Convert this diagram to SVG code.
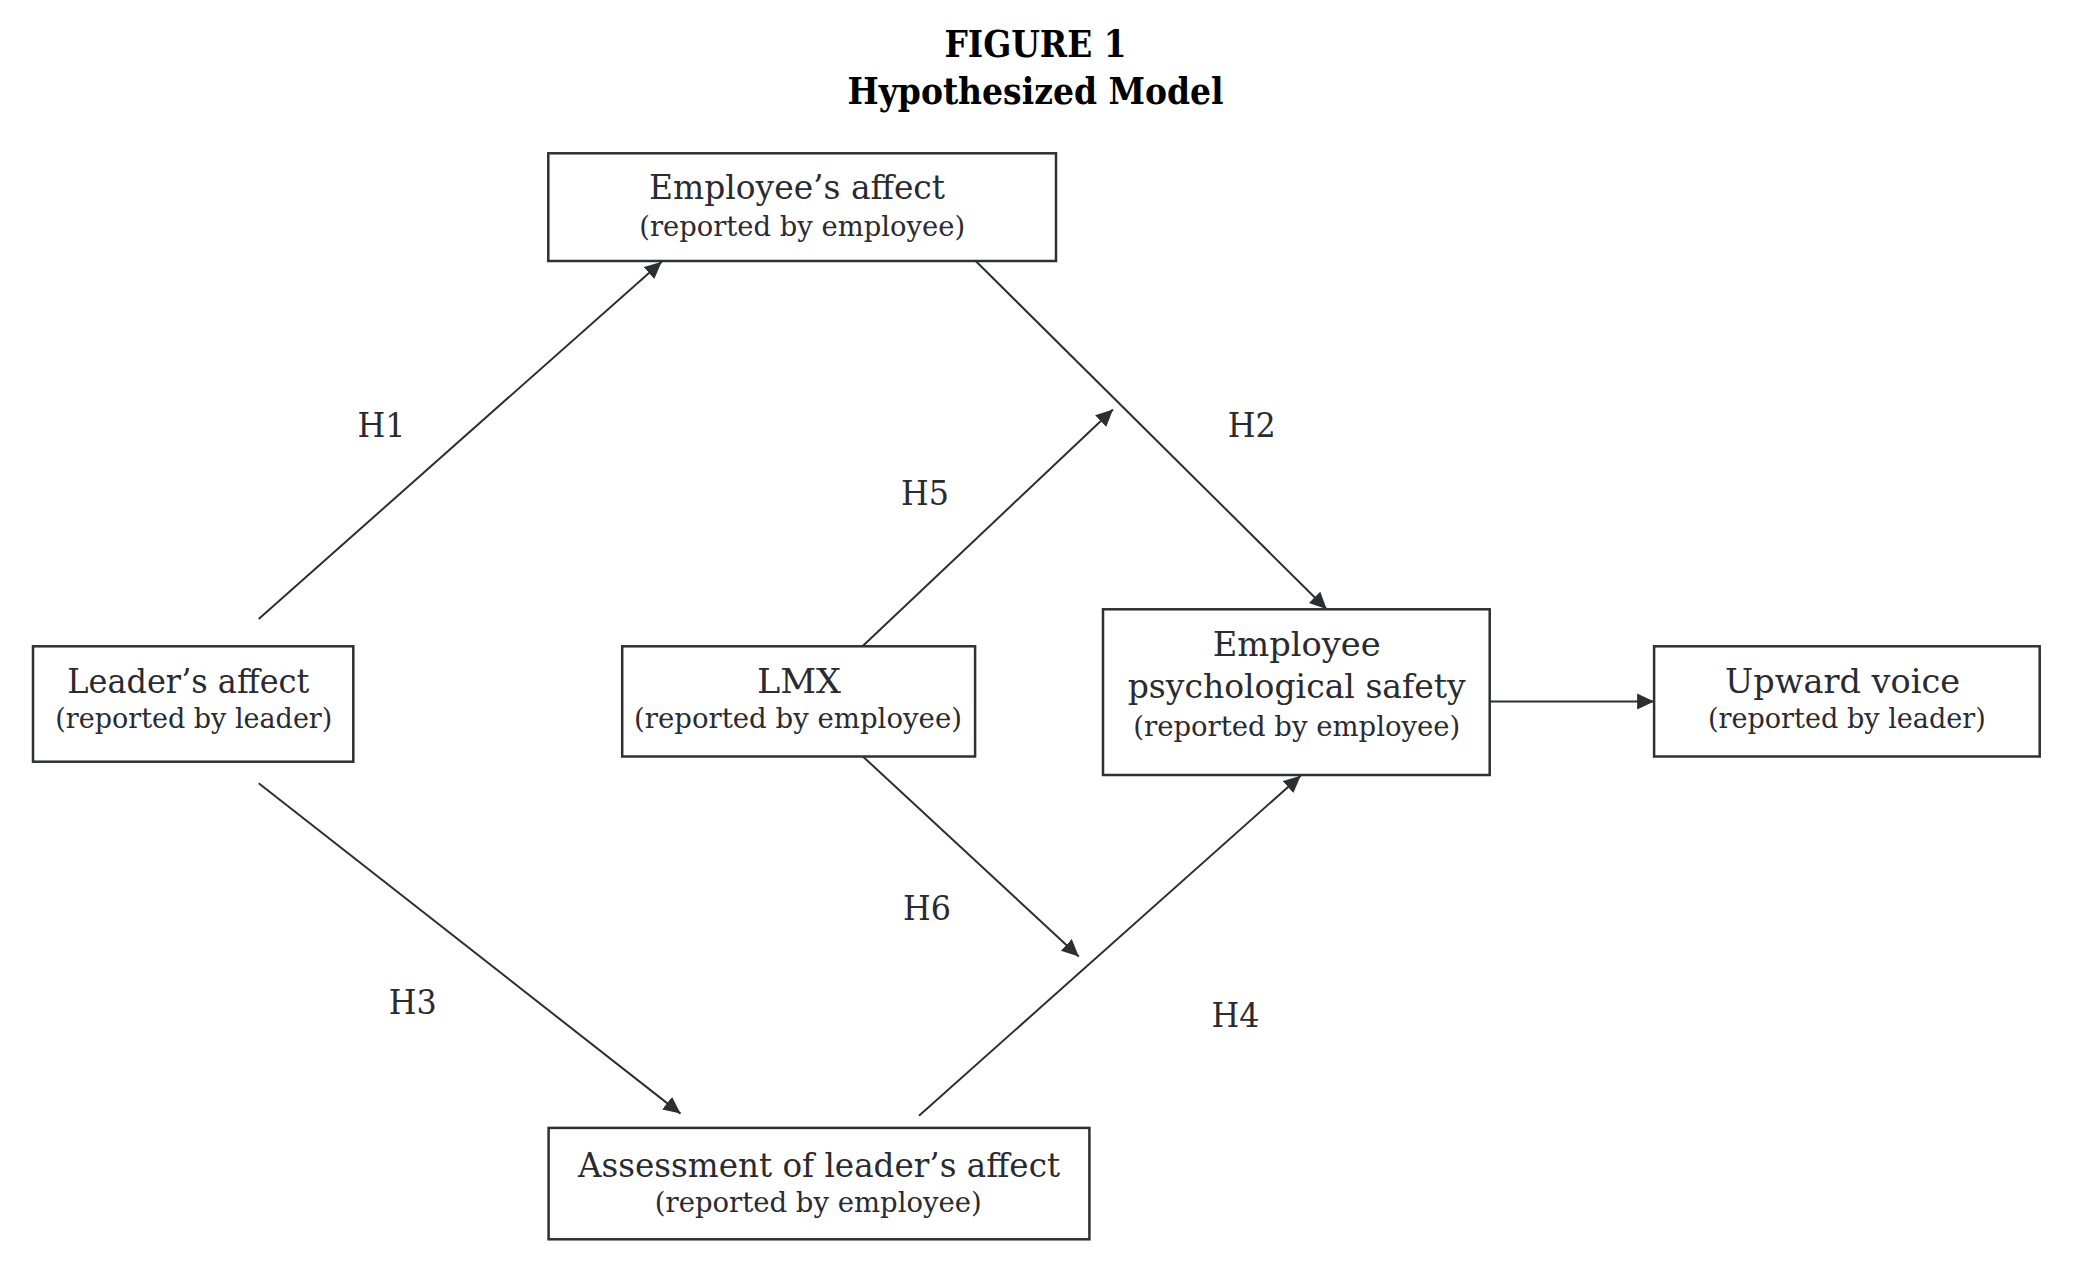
<svg xmlns="http://www.w3.org/2000/svg" width="2074" height="1272" viewBox="0 0 2074 1272">
<style>
.box{fill:#ffffff;stroke:#2e3036;stroke-width:2.5}
.t{font-family:"DejaVu Serif","Liberation Serif",serif;font-size:33px;fill:#2a2b2f;text-anchor:middle}
.s{font-family:"DejaVu Serif","Liberation Serif",serif;font-size:27px;fill:#2a2b2f;text-anchor:middle}
.h{font-family:"DejaVu Serif","Liberation Serif",serif;font-size:33px;fill:#2a2b2f;text-anchor:middle}
.title{font-family:"DejaVu Serif","Liberation Serif",serif;font-size:37px;font-weight:bold;fill:#000;text-anchor:middle}
.c{fill:none;stroke:#2c2e34;stroke-width:2}
</style>
<defs>
<marker id="ah" markerUnits="userSpaceOnUse" markerWidth="20" markerHeight="20" refX="17" refY="8" orient="auto">
<path d="M0,0 L17,8 L0,16 Z" fill="#2c2e34"/>
</marker>
</defs>
<rect width="2074" height="1272" fill="#ffffff"/>
<g id="title">
<text class="title" x="1035.5" y="56.7" textLength="182" lengthAdjust="spacingAndGlyphs">FIGURE 1</text>
<text class="title" x="1035.5" y="104.3" textLength="376" lengthAdjust="spacingAndGlyphs">Hypothesized Model</text>
</g>
<g id="connectors">
<line class="c" x1="258.7" y1="619" x2="661.7" y2="261.7" marker-end="url(#ah)"/>
<line class="c" x1="975.7" y1="261" x2="1326.7" y2="609.3" marker-end="url(#ah)"/>
<line class="c" x1="258.7" y1="783.3" x2="680.5" y2="1113.6" marker-end="url(#ah)"/>
<line class="c" x1="919" y1="1115.7" x2="1300.7" y2="775.7" marker-end="url(#ah)"/>
<line class="c" x1="862.5" y1="646.3" x2="1113" y2="409.4" marker-end="url(#ah)"/>
<line class="c" x1="862.9" y1="756.5" x2="1078.8" y2="956.5" marker-end="url(#ah)"/>
<line class="c" x1="1489.7" y1="701.4" x2="1654.1" y2="701.4" marker-end="url(#ah)"/>
</g>
<g id="labels">
<text class="h" x="381.6" y="436.7" textLength="48" lengthAdjust="spacingAndGlyphs">H1</text>
<text class="h" x="1251.7" y="436.7" textLength="48" lengthAdjust="spacingAndGlyphs">H2</text>
<text class="h" x="412.8" y="1013.6" textLength="48" lengthAdjust="spacingAndGlyphs">H3</text>
<text class="h" x="1235.6" y="1027" textLength="48" lengthAdjust="spacingAndGlyphs">H4</text>
<text class="h" x="924.9" y="504.9" textLength="48" lengthAdjust="spacingAndGlyphs">H5</text>
<text class="h" x="927" y="919.8" textLength="48" lengthAdjust="spacingAndGlyphs">H6</text>
</g>
<g id="node-employee-affect">
<rect class="box" x="548.3" y="153.3" width="507.7" height="107.7"/>
<text class="t" x="797" y="199.3" textLength="296" lengthAdjust="spacingAndGlyphs">Employee’s affect</text>
<text class="s" x="802.2" y="236" textLength="326" lengthAdjust="spacingAndGlyphs">(reported by employee)</text>
</g>
<g id="node-leader-affect">
<rect class="box" x="33" y="646.3" width="320.3" height="115.4"/>
<text class="t" x="188.3" y="692.7" textLength="242" lengthAdjust="spacingAndGlyphs">Leader’s affect</text>
<text class="s" x="193.8" y="728.3" textLength="277" lengthAdjust="spacingAndGlyphs">(reported by leader)</text>
</g>
<g id="node-lmx">
<rect class="box" x="622.2" y="646.3" width="352.9" height="110.2"/>
<text class="t" x="799" y="692.7" textLength="84" lengthAdjust="spacingAndGlyphs">LMX</text>
<text class="s" x="798" y="728.3" textLength="328" lengthAdjust="spacingAndGlyphs">(reported by employee)</text>
</g>
<g id="node-psych-safety">
<rect class="box" x="1103" y="609.3" width="386.7" height="165.7"/>
<text class="t" x="1296.7" y="656" textLength="168" lengthAdjust="spacingAndGlyphs">Employee</text>
<text class="t" x="1296.7" y="698.3" textLength="338" lengthAdjust="spacingAndGlyphs">psychological safety</text>
<text class="s" x="1296.8" y="736" textLength="327" lengthAdjust="spacingAndGlyphs">(reported by employee)</text>
</g>
<g id="node-upward-voice">
<rect class="box" x="1654.1" y="646.3" width="385.6" height="110.2"/>
<text class="t" x="1842.5" y="692.7" textLength="235" lengthAdjust="spacingAndGlyphs">Upward voice</text>
<text class="s" x="1846.9" y="728.3" textLength="278" lengthAdjust="spacingAndGlyphs">(reported by leader)</text>
</g>
<g id="node-assessment">
<rect class="box" x="548.6" y="1127.9" width="540.8" height="111.4"/>
<text class="t" x="819" y="1176.9" textLength="482" lengthAdjust="spacingAndGlyphs">Assessment of leader’s affect</text>
<text class="s" x="818.3" y="1211.6" textLength="327" lengthAdjust="spacingAndGlyphs">(reported by employee)</text>
</g>
</svg>
